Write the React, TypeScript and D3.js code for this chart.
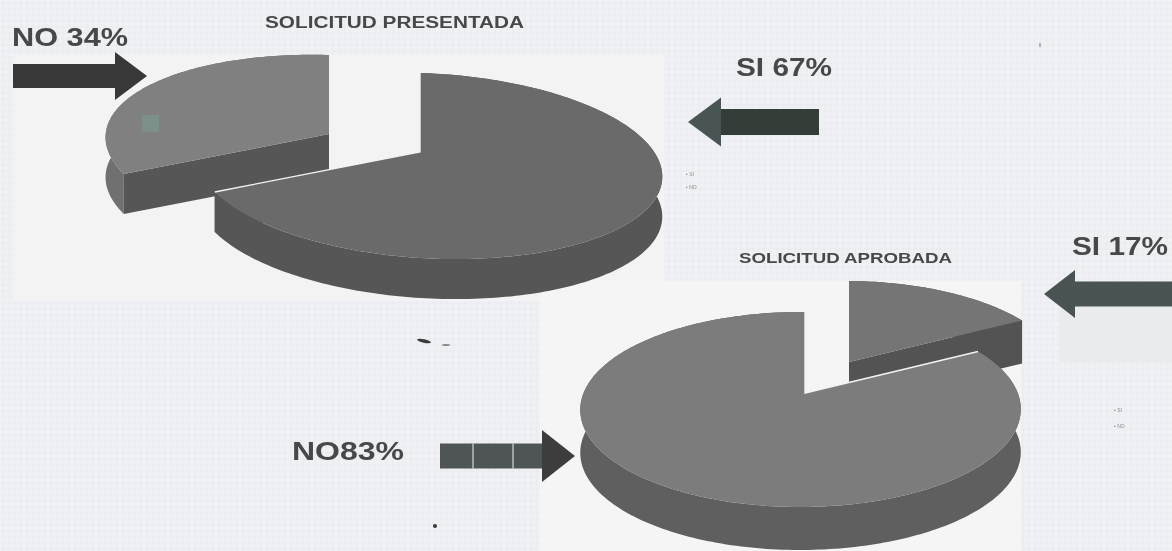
import React from 'react';
import * as d3 from 'd3';

const width = 1172;
const height = 551;

// values (they do not add up to 100 in the first pie, as in the source)
const categories = ['SI', 'NO'];
const presentada = [67, 34];
const aprobada = [17, 83];
const presentadaLabels = ['SI 67%', 'NO 34%'];
const aprobadaLabels = ['SI 17%', 'NO83%'];

// perspective of each pie: c centre, rx/ry radii, p/q depth terms, t tilt, depth wall height
const pieA = {
  title: 'SOLICITUD PRESENTADA',
  values: presentada,
  cx: 420, cy: 152, rx: 230, ry: 90.5, p: -0.146, q: -0.04, t: 10, depth: 40,
  shift: [[0, 0], [-91, -18]],
  top: ['#6b6b6b', '#808080'],
  wall: ['#565656', '#6f6f6f'],
  cut: ['#565656', '#575757'],
  order: [1, 0],
};
const pieB = {
  title: 'SOLICITUD APROBADA',
  values: aprobada,
  cx: 805, cy: 393, rx: 217, ry: 94.7, p: -0.169, q: 0.02, t: 0, depth: 43,
  shift: [[44, -31], [0, 0]],
  top: ['#747474', '#7c7c7c'],
  wall: ['#565656', '#5e5e5e'],
  cut: ['#525252', '#5e5e5e'],
  order: [0, 1],
};

const ink = '#474a4a';
const font = '"Liberation Sans", Arial, sans-serif';

const pieGen = d3.pie<number>().sort(null).startAngle(0).endAngle(2 * Math.PI);
const lineGen = d3.line();

function PieSlices({ pie }: { pie: typeof pieA }) {
  const slices = pieGen(pie.values);

  const project = (a: number, r: number, s: number[], dz = 0): [number, number] => {
    const u = Math.sin(a) * r;
    const v = -Math.cos(a) * r;
    const w = 1 + pie.p * v + pie.q * u;
    return [
      pie.cx + s[0] + (pie.rx * u) / w,
      pie.cy + s[1] + (pie.ry * v + pie.t * u) / w + dz,
    ];
  };

  return (
    <g>
      {pie.order.map(i => {
        const sl = slices[i];
        const s = pie.shift[i];
        const angles = d3.range(sl.startAngle, sl.endAngle, 0.02).concat(sl.endAngle);
        const rim = angles.map(a => project(a, 1, s));
        const rimLow = angles.map(a => project(a, 1, s, pie.depth)).reverse();
        const apex = project(0, 0, s);
        const apexLow = project(0, 0, s, pie.depth);
        const first = rim[0];
        const last = rim[rim.length - 1];
        const lastLow = project(sl.endAngle, 1, s, pie.depth);
        const firstLow = project(sl.startAngle, 1, s, pie.depth);
        return (
          <g key={categories[i]}>
            <path d={lineGen([...rim, ...rimLow])! + 'Z'} fill={pie.wall[i]} />
            <path d={lineGen([apex, first, firstLow, apexLow])! + 'Z'} fill={pie.cut[i]} />
            <path d={lineGen([apex, last, lastLow, apexLow])! + 'Z'} fill={pie.cut[i]} />
            <path d={lineGen([apex, ...rim])! + 'Z'} fill={pie.top[i]} />
            {/* pale seam along the cut edges of the slice that stays in place */}
            {s[0] === 0 && (
              <path d={lineGen([first, apex, last])!} fill="none" stroke="#f3f3f3" strokeWidth={1.4} />
            )}
          </g>
        );
      })}
    </g>
  );
}

// block arrow, dir 1 = right, -1 = left. tip is where it points
function Arrow({ tipX, y, headLen, headH, shaftLen, shaftH, dir, fill, headFill, seps = [] }: any) {
  const base = tipX - dir * headLen;
  const end = base - dir * shaftLen;
  return (
    <g>
      <rect x={Math.min(base, end)} y={y - shaftH / 2} width={shaftLen} height={shaftH} fill={fill} />
      {seps.map((x: number) => (
        <line key={x} x1={x} x2={x} y1={y - shaftH / 2} y2={y + shaftH / 2} stroke="#eef0f0" strokeWidth={1} />
      ))}
      <path
        d={lineGen([[tipX, y], [base, y - headH / 2], [base, y + headH / 2]])! + 'Z'}
        fill={headFill || fill}
      />
    </g>
  );
}

export default function App() {
  return (
    <>
      <style>{'body{margin:0;background:#eff1f4}'}</style>
      <svg width={width} height={height} style={{ display: 'block' }} fontFamily={font}>
        <defs>
          <pattern id="scan" width={6} height={6} patternUnits="userSpaceOnUse">
            <rect width={6} height={6} fill="#eff1f4" />
            <path d="M0 3H6M3 0V6" stroke="#e9ebf0" strokeWidth={1} />
          </pattern>
          <filter id="soft" x="-5%" y="-5%" width="110%" height="110%">
            <feGaussianBlur stdDeviation={0.7} />
          </filter>
        </defs>
        <rect width={width} height={height} fill="url(#scan)" />

        {/* plot panels behind the pies */}
        <rect x={14} y={55} width={650} height={246} fill="#f3f3f3" />
        <rect x={540} y={281} width={481} height={270} fill="#f5f5f5" />
        <rect x={1060} y={281} width={112} height={81} fill="#e9ebed" />

        <g filter="url(#soft)">
          <PieSlices pie={pieA} />
          <PieSlices pie={pieB} />
          <rect x={142} y={115} width={17} height={17} fill="#7c8f88" />
        </g>

        <g filter="url(#soft)">
          <Arrow tipX={147} y={76} headLen={32} headH={48} shaftLen={102} shaftH={24} dir={1} fill="#393939" />
          <Arrow tipX={688} y={122} headLen={33} headH={49} shaftLen={98} shaftH={26} dir={-1} fill="#343d39" headFill="#4a5555" />
          <Arrow tipX={1044} y={294} headLen={31} headH={48} shaftLen={97} shaftH={25} dir={-1} fill="#4a5252" />
          <Arrow tipX={575} y={456} headLen={33} headH={52} shaftLen={102} shaftH={25} dir={1} fill="#505555" headFill="#3e3e3e" seps={[473, 513]} />
        </g>

        <g fill={ink} fontWeight="bold" filter="url(#soft)">
          <text x={265} y={28} fontSize={16} textLength={259} lengthAdjust="spacingAndGlyphs">{pieA.title}</text>
          <text x={739} y={263} fontSize={15.5} textLength={213} lengthAdjust="spacingAndGlyphs">{pieB.title}</text>
          <text x={12} y={45.5} fontSize={26} textLength={116} lengthAdjust="spacingAndGlyphs">{presentadaLabels[1]}</text>
          <text x={736} y={75.5} fontSize={26} textLength={96} lengthAdjust="spacingAndGlyphs">{presentadaLabels[0]}</text>
          <text x={1072} y={254.5} fontSize={26} textLength={96} lengthAdjust="spacingAndGlyphs">{aprobadaLabels[0]}</text>
          <text x={292} y={460} fontSize={26} textLength={112} lengthAdjust="spacingAndGlyphs">{aprobadaLabels[1]}</text>
        </g>

        {/* tiny legends */}
        <g fontSize={5} fill="#8a8d8d" filter="url(#soft)">
          {categories.map((c, i) => (
            <text key={c} x={686} y={176 + i * 13}>{'\u25AA ' + c}</text>
          ))}
          {categories.map((c, i) => (
            <text key={c} x={1114} y={412 + i * 16}>{'\u25AA ' + c}</text>
          ))}
        </g>

        {/* scan specks */}
        <g fill="#3a3a3a" filter="url(#soft)">
          <ellipse cx={424} cy={341} rx={7} ry={1.8} transform="rotate(12 424 341)" />
          <ellipse cx={446} cy={345} rx={4} ry={1} fill="#888888" />
          <circle cx={435} cy={526} r={2} />
          <ellipse cx={1040} cy={45} rx={1} ry={2.5} fill="#aaaaaa" />
        </g>
      </svg>
    </>
  );
}
